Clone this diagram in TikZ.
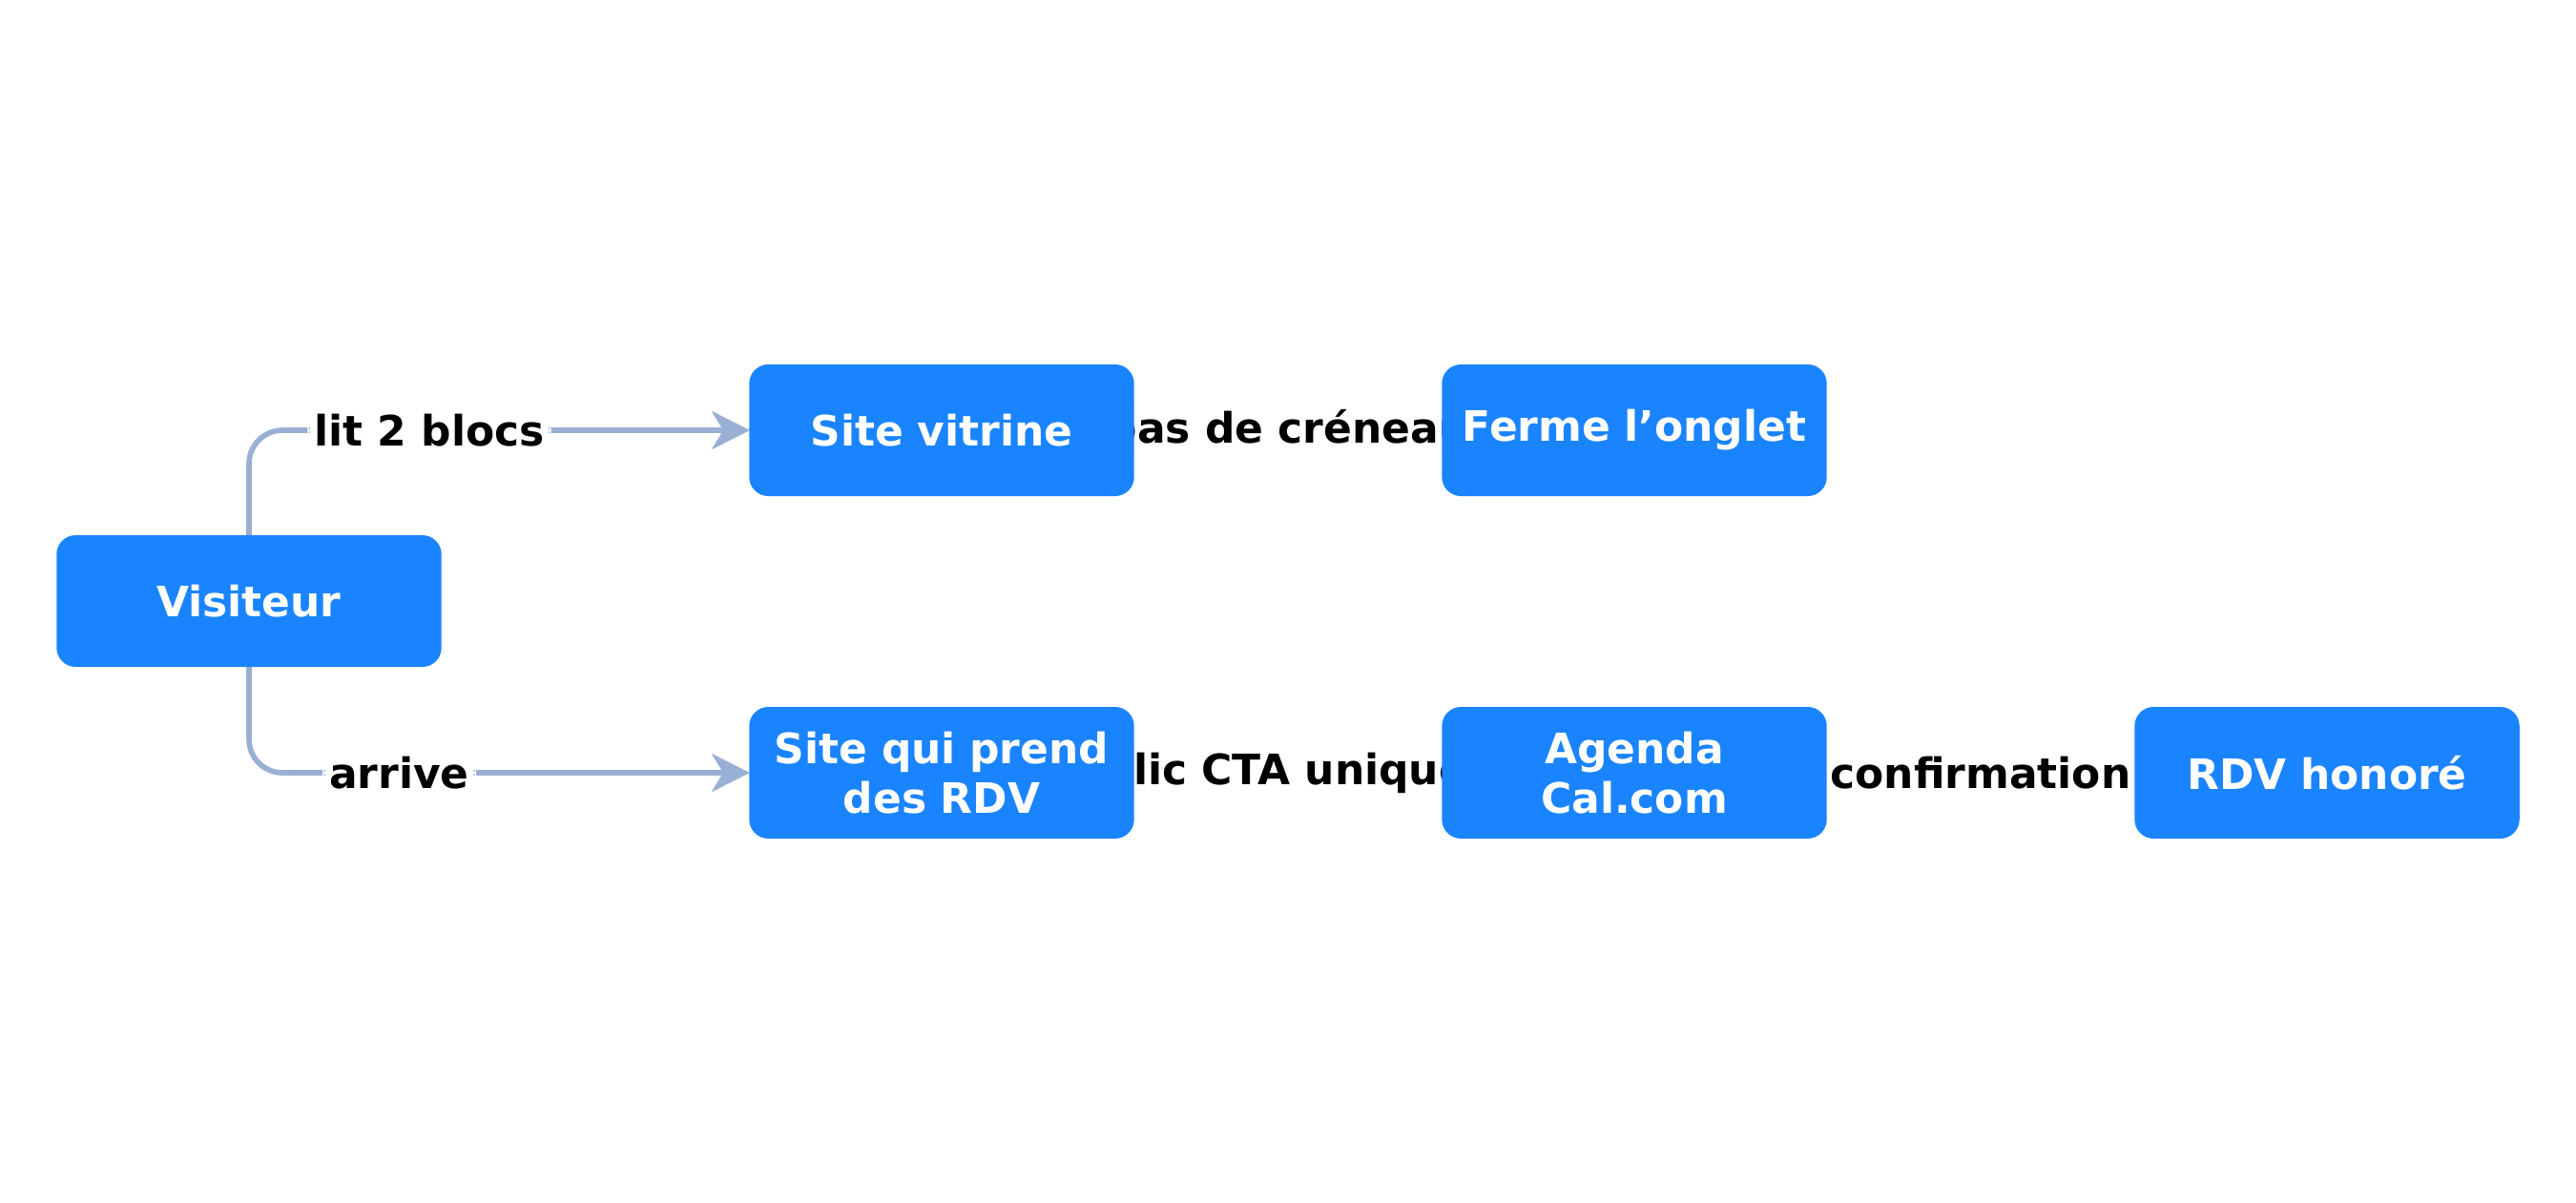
\documentclass[tikz,border=0pt]{standalone}
\usepackage{fontspec}
\setmainfont{DejaVu Sans}
\usetikzlibrary{arrows.meta}
\definecolor{boxblue}{HTML}{1A84FF}
\definecolor{linkblue}{HTML}{9AAFD4}
\definecolor{paleblue}{HTML}{DDE3F0}
\tikzset{
  etape/.style={draw=none, fill=boxblue, rounded corners=0.2cm, minimum width=4.02cm,
    minimum height=1.38cm, text width=3.8cm, align=center, text=white,
    font=\fontsize{12.5}{15}\selectfont\bfseries},
  lien/.style={draw=linkblue, line width=1.6pt, rounded corners=0.35cm,
    -{Stealth[length=0.4cm,width=0.4cm,inset=0.12cm]}},
  lienpale/.style={draw=paleblue, line width=1.6pt,
    -{Stealth[length=0.4cm,width=0.4cm,inset=0.12cm]}},
  etiq/.style={fill=white, inner sep=2pt, text=black, font=\fontsize{12.5}{15}\selectfont\bfseries}
}
\begin{document}
\begin{tikzpicture}
\useasboundingbox (0,0) rectangle (27,12.6);

% points d'ancrage
\coordinate (v) at (2.61,6.30);
\coordinate (sv) at (9.87,8.09);
\coordinate (fo) at (17.13,8.09);
\coordinate (sr) at (9.87,4.50);
\coordinate (ag) at (17.13,4.50);
\coordinate (rh) at (24.39,4.50);

% liens
\draw[lien] (2.61,6.99) |- (7.86,8.09) node[etiq, pos=0.68] {lit 2 blocs};
\draw[lien] (2.61,5.61) |- (7.86,4.50) node[etiq, pos=0.65] {arrive};
\draw[lienpale] (11.88,8.09) -- (15.12,8.09) node[etiq, midway] {pas de créneau};
\draw[lienpale] (11.88,4.50) -- (15.12,4.50) node[etiq, midway] {clic CTA unique};
\draw[lienpale] (19.14,4.50) -- (22.38,4.50) node[etiq, midway] {confirmation};

% etapes
\node[etape] (visiteur) at (v) {Visiteur};
\node[etape] (vitrine) at (sv) {Site vitrine};
\node[etape] (onglet) at (fo) {Ferme l'onglet};
\node[etape] (siterdv) at (sr) {Site qui prend des RDV};
\node[etape] (agenda) at (ag) {Agenda Cal.com};
\node[etape] (honore) at (rh) {RDV honoré};

\end{tikzpicture}
\end{document}
